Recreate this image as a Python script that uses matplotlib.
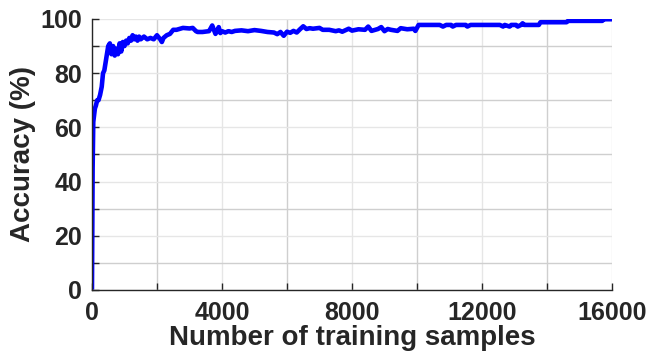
import matplotlib.pyplot as plt
from matplotlib.ticker import MultipleLocator

# accuracy curve
samples = [0, 5, 10, 15, 20, 30, 40, 60, 90, 120, 160, 200, 250, 300, 340,
           380, 420, 460, 500, 550, 600, 650, 700, 750, 800, 850, 900, 950,
           1000, 1050, 1100, 1150, 1200, 1250, 1300, 1350, 1400, 1450, 1500,
           1600, 1700, 1800, 1900, 2000, 2100, 2150, 2200, 2300, 2400, 2500,
           2600, 2800, 3000, 3100, 3200, 3250, 3400, 3600, 3650, 3700, 3750,
           3800, 3850, 3900, 3950, 4000, 4100, 4200, 4300, 4400, 4600, 4800,
           5000, 5200, 5400, 5600, 5700, 5800, 5900, 6000, 6100, 6200, 6300,
           6400, 6500, 6600, 6700, 6800, 7000, 7100, 7300, 7500, 7600, 7700,
           7900, 8000, 8200, 8400, 8500, 8600, 8800, 8900, 9000, 9100, 9200,
           9400, 9500, 9700, 9900, 9950, 10050, 10700, 10800, 10900, 11050,
           11100, 11200, 11500, 11550, 11650, 12550, 12650, 12700, 12850,
           12900, 13050, 13100, 13200, 13250, 13300, 13750, 13800, 14600,
           14650, 15700, 15750, 16000]
accuracy = [1, 12, 25, 35, 45, 55, 62, 64, 67, 68, 70, 70, 72, 75, 80,
            81, 84, 87, 90, 91, 87, 90, 86.5, 89, 87, 91, 88, 91.5,
            90, 92, 91, 93, 92, 94, 92.5, 93.5, 92, 93.5, 92.5,
            93.5, 92.5, 93, 92.5, 94, 92.5, 91.5, 93, 94, 94.5, 96,
            96, 96.7, 96.5, 96.7, 95.5, 95.2, 95.2, 95.5, 96.5, 97.6, 96,
            94.5, 95.5, 97, 94.8, 95.5, 95, 95.5, 95.2, 95.6, 95.8, 95.5,
            95.9, 95.6, 95.2, 95.0, 94.4, 95.2, 93.8, 95.3, 94.9, 95.6, 95.0,
            96.2, 97.3, 96.3, 96.6, 96.4, 96.7, 96.0, 96.0, 95.5, 95.8, 95.3,
            96.4, 95.7, 96.2, 96.0, 97.2, 95.6, 96.3, 97.0, 95.5, 96.3, 96.0,
            95.6, 96.6, 96.2, 96.4, 95.6, 97.8, 97.8, 97.2, 97.8, 97.8,
            97.2, 97.8, 97.8, 97.2, 97.8, 97.8, 97.2, 97.8, 97.2,
            97.8, 97.8, 97.2, 97.8, 98.4, 97.8, 97.8, 98.8, 98.8,
            99.3, 99.3, 99.9, 99.9]

ink = "#262626"
plt.rcParams["font.family"] = ["Liberation Sans", "DejaVu Sans"]
plt.rcParams["font.weight"] = "bold"

fig = plt.figure(figsize=(6.5, 3.58), dpi=100)
ax = fig.add_axes([0.1415, 0.19, 0.80, 0.757])
ax.plot(samples, accuracy, color="#0000ff", linewidth=3.3, solid_joinstyle="round")

ax.set_xlim(0, 16000)
ax.set_ylim(0, 100)
ax.xaxis.set_major_locator(MultipleLocator(4000))
ax.xaxis.set_minor_locator(MultipleLocator(2000))
ax.yaxis.set_major_locator(MultipleLocator(20))
ax.yaxis.set_minor_locator(MultipleLocator(10))

ax.grid(which="major", color="#e6e6e6", linewidth=1)
ax.grid(which="minor", color="#cfcfcf", linewidth=1)
ax.set_axisbelow(True)

for side in ("top", "right"):
    ax.spines[side].set_visible(False)
for side in ("left", "bottom"):
    ax.spines[side].set_color(ink)
    ax.spines[side].set_linewidth(1)

ax.tick_params(which="both", direction="in", colors=ink, length=5, width=1,
               labelsize=18)
ax.tick_params(axis="x", pad=8)
ax.tick_params(axis="y", pad=7)
ax.set_xlabel("Number of training samples", fontsize=20, fontweight="bold",
              color=ink, labelpad=0)
ax.set_ylabel("Accuracy (%)", fontsize=20, fontweight="bold", color=ink,
              labelpad=3)

fig.savefig("out.png", dpi=100)
